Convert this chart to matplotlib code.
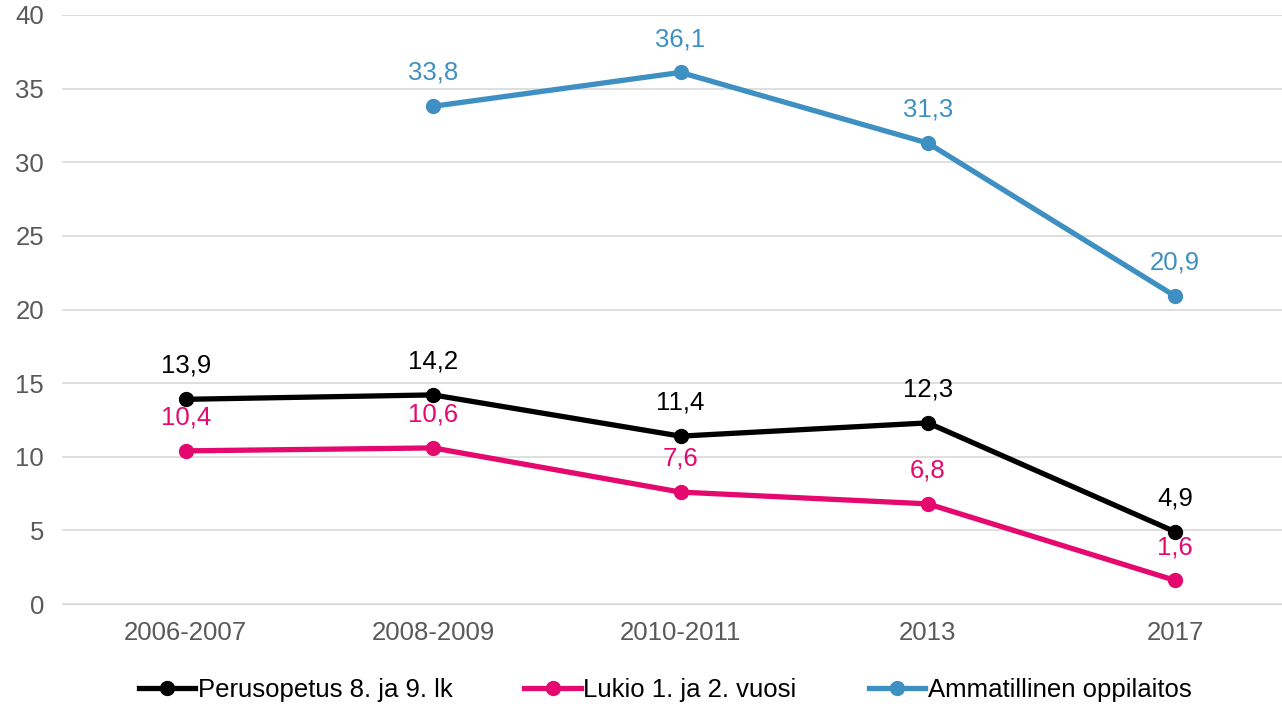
import matplotlib
matplotlib.use("Agg")
import matplotlib.pyplot as plt
import numpy as np

plt.rcParams['font.family'] = ['Liberation Sans', 'DejaVu Sans']

categories = ["2006-2007", "2008-2009", "2010-2011", "2013", "2017"]
perusopetus = [13.9, 14.2, 11.4, 12.3, 4.9]
lukio = [10.4, 10.6, 7.6, 6.8, 1.6]
ammatillinen = [None, 33.8, 36.1, 31.3, 20.9]
series_names = ["Perusopetus 8. ja 9. lk", "Lukio 1. ja 2. vuosi", "Ammatillinen oppilaitos"]
colors = ["#000000", "#E5086F", "#3F90C2"]

FS = 18.5

fig = plt.figure(figsize=(12.82, 7.04), dpi=100)
ax = fig.add_axes([62/1282, 1 - 604/704, (1299 - 62)/1282, (604 - 15)/704])

x = np.arange(len(categories))
for vals, name, c in zip([perusopetus, lukio, ammatillinen], series_names, colors):
    xs = [xi for xi, v in zip(x, vals) if v is not None]
    ys = [v for v in vals if v is not None]
    ax.plot(xs, ys, color=c, lw=3.8, marker='o', markersize=10, label=name, zorder=3)
    for xi, v in zip(xs, ys):
        ax.annotate(f"{v:.1f}".replace('.', ','), (xi, v), xytext=(0, 24),
                    textcoords='offset points', ha='center', va='center',
                    fontsize=FS, color=c)

ax.set_xlim(-0.5, 4.5)
ax.set_ylim(0, 40)
ax.set_yticks(range(0, 41, 5))
ax.set_xticks(x)
ax.set_xticklabels(categories)
ax.grid(axis='y', color='#D9D9D9', lw=1.2)
ax.set_axisbelow(True)
for s in ax.spines.values():
    s.set_visible(False)
ax.spines['bottom'].set_visible(True)
ax.spines['bottom'].set_color('#D9D9D9')
ax.tick_params(axis='both', length=0, labelsize=FS, labelcolor='#595959')
ax.tick_params(axis='x', pad=12)
ax.tick_params(axis='y', pad=13)

leg = fig.legend(loc='center', bbox_to_anchor=(665/1282, 1 - 690/704), ncol=3,
                 frameon=False, fontsize=FS, handlelength=2.2, handletextpad=0.1,
                 columnspacing=2.8)

fig.savefig("out.png", dpi=100)
